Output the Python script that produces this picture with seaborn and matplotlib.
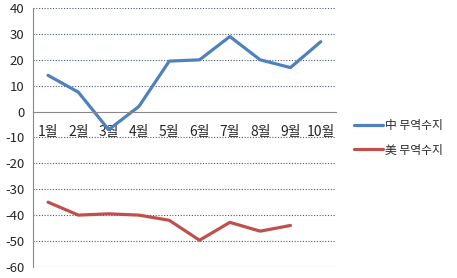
import numpy as np
import pandas as pd
import matplotlib
matplotlib.use("Agg")
import matplotlib.pyplot as plt
import seaborn as sns
from matplotlib.lines import Line2D

months = ["1월", "2월", "3월", "4월", "5월", "6월", "7월", "8월", "9월", "10월"]
china = [14, 7.5, -7, 2, 19.5, 20, 29, 20, 17, 27]
usa = [-35, -40, -39.5, -40, -42, -49.7, -42.8, -46.2, -44, np.nan]
series_names = ["中 무역수지", "美 무역수지"]
colors = ["#4F81BD", "#C0504D"]

sns.set_style("white")
plt.rcParams['font.family'] = ['Noto Sans CJK KR', 'DejaVu Sans']

rows = []
for name, vals in zip(series_names, [china, usa]):
    for i, v in enumerate(vals):
        rows.append({"pos": i, "month": months[i], "value": v, "series": name})
df = pd.DataFrame(rows).dropna()

fig = plt.figure(figsize=(4.57, 2.78), dpi=100)
ax = fig.add_axes([0.072, 0.040, 0.663, 0.931])

sns.lineplot(data=df, x="pos", y="value", hue="series", palette=colors,
             hue_order=series_names, linewidth=2.3, ax=ax, legend=False,
             sort=False, estimator=None)

ax.set_xlim(-0.5, 9.5)
ax.set_ylim(-60, 40)
ax.set_yticks(np.arange(-60, 41, 10))
ax.set_yticklabels([str(v) for v in range(-60, 41, 10)], fontsize=9.5)
for y in range(-60, 41, 10):
    if y != 0:
        ax.axhline(y, color="#4a5a6a", linestyle=(0, (1, 1.5)), linewidth=0.8, zorder=0)

ax.set_xticks(range(10))
ax.set_xticklabels(months, fontsize=9.5)
ax.set_xticks(np.arange(-0.5, 10, 1), minor=True)
ax.tick_params(axis='x', which='major', length=0, pad=10)
ax.tick_params(axis='x', which='minor', length=4, direction='out', color="#888888", width=0.8)
ax.tick_params(axis='y', length=4, direction='out', color="#888888", width=0.8, pad=2)
ax.set_xlabel("")
ax.set_ylabel("")

ax.spines['bottom'].set_position(('data', 0))
ax.spines['bottom'].set_color("#888888")
ax.spines['left'].set_color("#888888")
ax.spines['top'].set_visible(False)
ax.spines['right'].set_visible(False)

handles = [Line2D([0], [0], color=c, lw=2.3) for c in colors]
fig.legend(handles, series_names, loc="center left", bbox_to_anchor=(0.775, 0.505),
           frameon=False, fontsize=8.5, handlelength=2.4, labelspacing=1.0,
           handletextpad=0.25, borderpad=0, borderaxespad=0)

fig.savefig("out.png", dpi=100)
